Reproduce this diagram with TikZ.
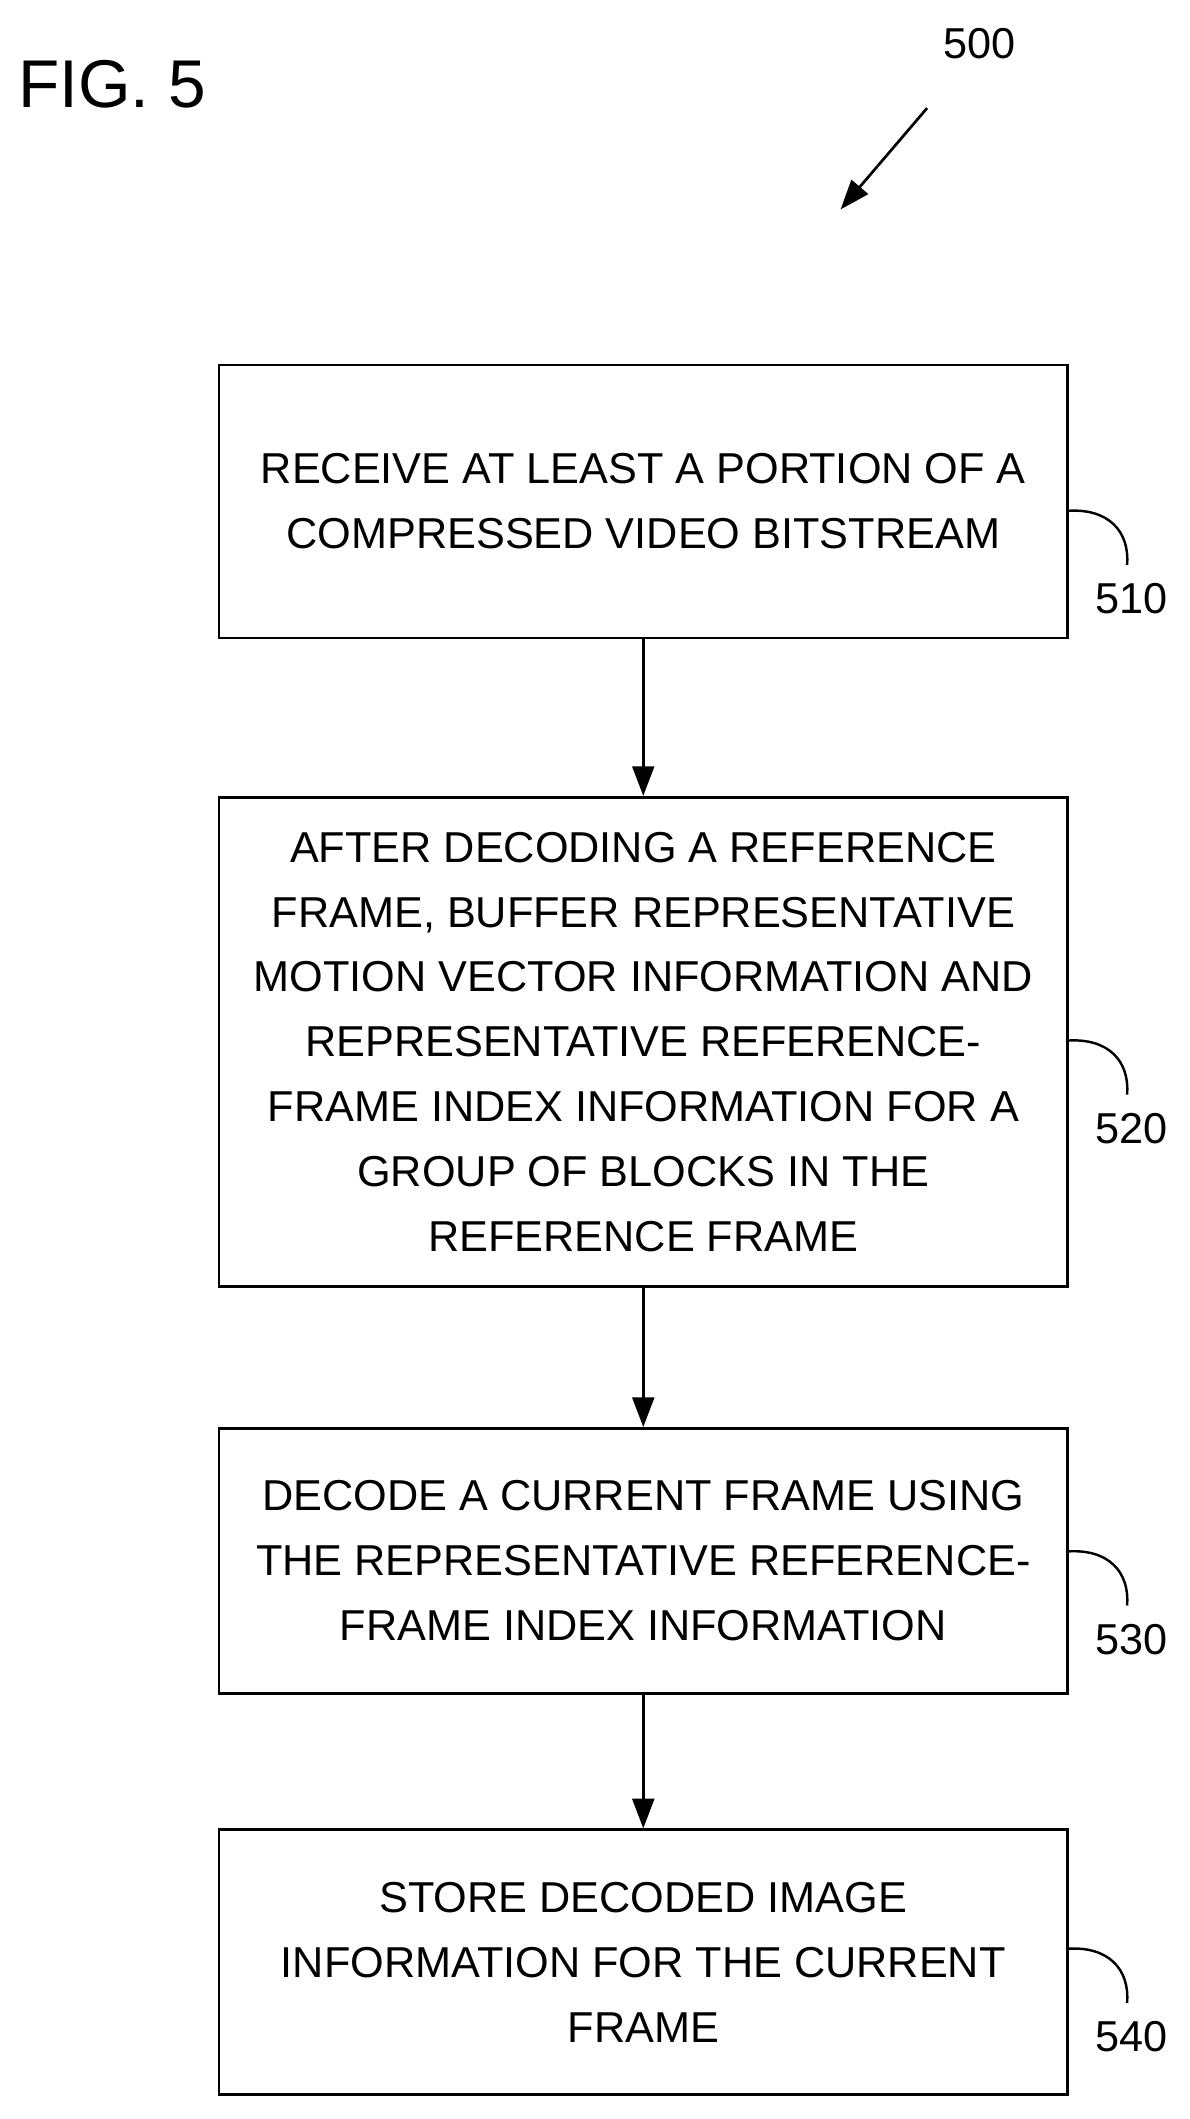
\documentclass[tikz,border=0pt]{standalone}
\usepackage{fontspec}
\setmainfont{Liberation Sans}
\usetikzlibrary{arrows.meta}
\begin{document}
\begin{tikzpicture}[x=1pt,y=-1pt,
  box/.style={draw,line width=2pt,minimum width=628pt,align=center,inner sep=0pt,font=\fontsize{32}{48}\selectfont},
  lbl/.style={font=\fontsize{32}{38}\selectfont,anchor=center},
  arr/.style={line width=2.5pt,-{Triangle[length=22pt,width=16pt]}},
  hook/.style={line width=1.8pt}]
\useasboundingbox (0,0) rectangle (880,1568);
\node[font=\fontsize{50}{60}\selectfont,anchor=west] (fig) at (10,62) {FIG. 5};
\node[lbl] (n500) at (725,32) {500};
\coordinate (a0) at (686,80);
\coordinate (a1) at (622,155);
\draw[arr,line width=2pt] (a0) -- (a1);
\node[box,minimum height=202pt] (b1) at (476,371) {RECEIVE AT LEAST A PORTION OF A\\COMPRESSED VIDEO BITSTREAM};
\node[box,minimum height=362pt] (b2) at (476,771) {AFTER DECODING A REFERENCE\\FRAME, BUFFER REPRESENTATIVE\\MOTION VECTOR INFORMATION AND\\REPRESENTATIVE REFERENCE-\\FRAME INDEX INFORMATION FOR A\\GROUP OF BLOCKS IN THE\\REFERENCE FRAME};
\node[box,minimum height=196pt] (b3) at (476,1155) {DECODE A CURRENT FRAME USING\\THE REPRESENTATIVE REFERENCE-\\FRAME INDEX INFORMATION};
\node[box,minimum height=196pt] (b4) at (476,1452) {STORE DECODED IMAGE\\INFORMATION FOR THE CURRENT\\FRAME};
\draw[arr] (b1) -- (b2);
\draw[arr] (b2) -- (b3);
\draw[arr] (b3) -- (b4);
\foreach \b/\t/\y in {b1/510/378,b2/520/770,b3/530/1148,b4/540/1442}{
  \node[lbl] (l\t) at (837,\y+65) {\t};
  \draw[hook] (790,\y) .. controls (820,\y-2) and (836,\y+15) .. (834,\y+40);
}
\end{tikzpicture}
\end{document}
